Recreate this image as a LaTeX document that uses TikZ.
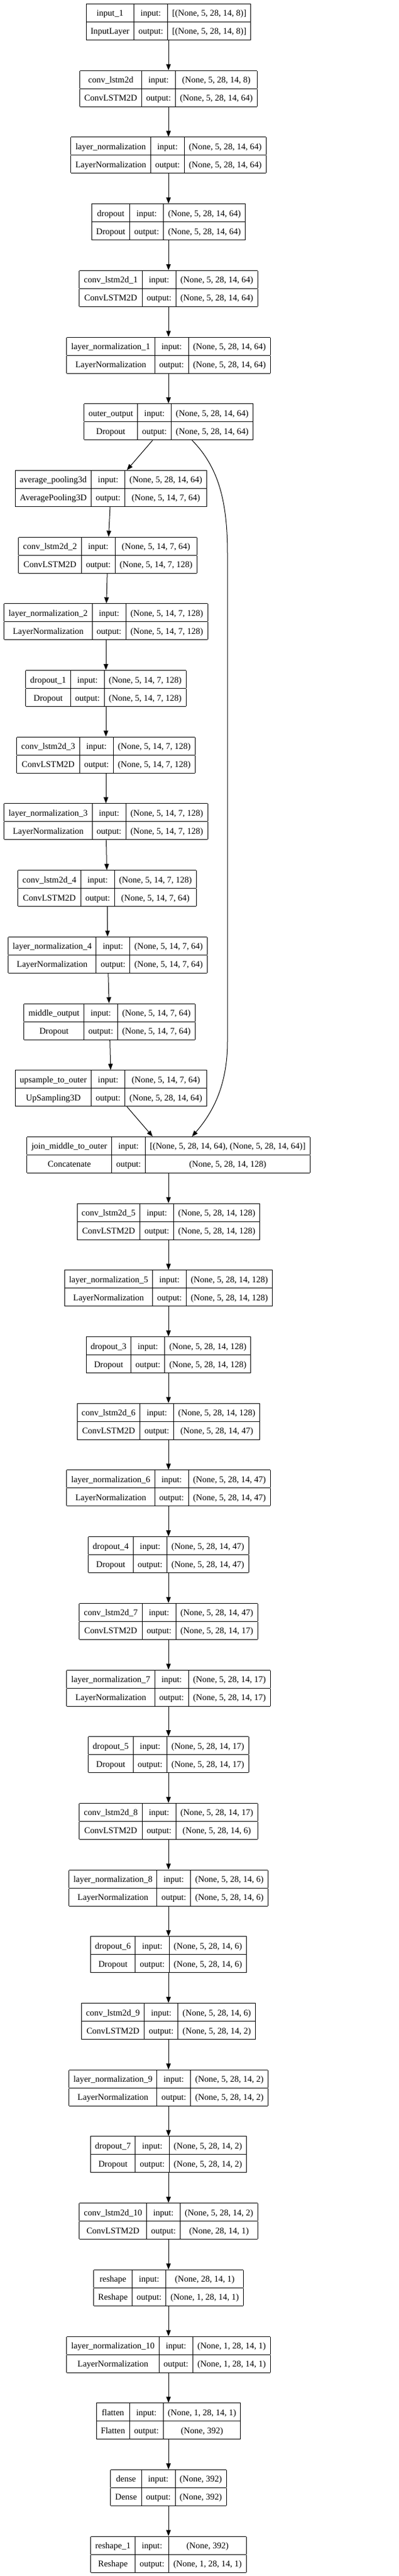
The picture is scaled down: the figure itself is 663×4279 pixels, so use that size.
\documentclass[tikz,border=0pt]{standalone}
\usepackage{fontspec}
\setmainfont{Liberation Serif}
\usepackage{tikz}
\usetikzlibrary{arrows.meta}
\setlength{\arrayrulewidth}{1pt}
\setlength{\tabcolsep}{7.5pt}
\newcommand{\rowstrut}{\rule[-9pt]{0pt}{29pt}}
\newcommand{\kerasbox}[4]{%
  \begin{tabular}{|c|c|c|}\hline
  \rowstrut #1 & input: & #3\\\hline
  \rowstrut #2 & output: & #4\\\hline
  \end{tabular}}
\tikzset{
  layer/.style={inner sep=0pt, outer sep=0pt, font=\fontsize{14.5}{17}\selectfont},
  flow/.style={line width=1pt, -{Triangle[length=10pt,width=7.5pt]}}
}

\begin{document}
\begin{tikzpicture}[x=1pt,y=1pt]
\fill[white] (0,0) rectangle (663,-4279);
\useasboundingbox (0,0) rectangle (663,-4279);
%% outer branch
\node[layer] (input) at (280,-36.5) {\kerasbox{input\_1}{InputLayer}{[(None, 5, 28, 14, 8)]}{[(None, 5, 28, 14, 8)]}};
\node[layer] (conv0) at (280,-147.2) {\kerasbox{conv\_lstm2d}{ConvLSTM2D}{(None, 5, 28, 14, 8)}{(None, 5, 28, 14, 64)}};
\node[layer] (norm0) at (280,-257.9) {\kerasbox{layer\_normalization}{LayerNormalization}{(None, 5, 28, 14, 64)}{(None, 5, 28, 14, 64)}};
\node[layer] (drop0) at (280,-368.6) {\kerasbox{dropout}{Dropout}{(None, 5, 28, 14, 64)}{(None, 5, 28, 14, 64)}};
\node[layer] (conv1) at (280,-479.3) {\kerasbox{conv\_lstm2d\_1}{ConvLSTM2D}{(None, 5, 28, 14, 64)}{(None, 5, 28, 14, 64)}};
\node[layer] (norm1) at (280,-590.0) {\kerasbox{layer\_normalization\_1}{LayerNormalization}{(None, 5, 28, 14, 64)}{(None, 5, 28, 14, 64)}};
\node[layer] (outer) at (280,-700.7) {\kerasbox{outer\_output}{Dropout}{(None, 5, 28, 14, 64)}{(None, 5, 28, 14, 64)}};
%% middle branch
\node[layer] (pool) at (184.5,-811.4) {\kerasbox{average\_pooling3d}{AveragePooling3D}{(None, 5, 28, 14, 64)}{(None, 5, 14, 7, 64)}};
\node[layer] (conv2) at (179,-922.1) {\kerasbox{conv\_lstm2d\_2}{ConvLSTM2D}{(None, 5, 14, 7, 64)}{(None, 5, 14, 7, 128)}};
\node[layer] (norm2) at (176,-1032.8) {\kerasbox{layer\_normalization\_2}{LayerNormalization}{(None, 5, 14, 7, 128)}{(None, 5, 14, 7, 128)}};
\node[layer] (drop1) at (176,-1143.5) {\kerasbox{dropout\_1}{Dropout}{(None, 5, 14, 7, 128)}{(None, 5, 14, 7, 128)}};
\node[layer] (conv3) at (176,-1254.2) {\kerasbox{conv\_lstm2d\_3}{ConvLSTM2D}{(None, 5, 14, 7, 128)}{(None, 5, 14, 7, 128)}};
\node[layer] (norm3) at (176,-1364.9) {\kerasbox{layer\_normalization\_3}{LayerNormalization}{(None, 5, 14, 7, 128)}{(None, 5, 14, 7, 128)}};
\node[layer] (conv4) at (178,-1475.6) {\kerasbox{conv\_lstm2d\_4}{ConvLSTM2D}{(None, 5, 14, 7, 128)}{(None, 5, 14, 7, 64)}};
\node[layer] (norm4) at (179,-1586.3) {\kerasbox{layer\_normalization\_4}{LayerNormalization}{(None, 5, 14, 7, 64)}{(None, 5, 14, 7, 64)}};
\node[layer] (middle) at (182,-1697.0) {\kerasbox{middle\_output}{Dropout}{(None, 5, 14, 7, 64)}{(None, 5, 14, 7, 64)}};
\node[layer] (upsample) at (184.5,-1807.7) {\kerasbox{upsample\_to\_outer}{UpSampling3D}{(None, 5, 14, 7, 64)}{(None, 5, 28, 14, 64)}};
%% joined part
\node[layer] (join) at (280,-1918.4) {\kerasbox{join\_middle\_to\_outer}{Concatenate}{[(None, 5, 28, 14, 64), (None, 5, 28, 14, 64)]}{(None, 5, 28, 14, 128)}};
\node[layer] (conv5) at (280,-2029.1) {\kerasbox{conv\_lstm2d\_5}{ConvLSTM2D}{(None, 5, 28, 14, 128)}{(None, 5, 28, 14, 128)}};
\node[layer] (norm5) at (280,-2139.8) {\kerasbox{layer\_normalization\_5}{LayerNormalization}{(None, 5, 28, 14, 128)}{(None, 5, 28, 14, 128)}};
\node[layer] (drop3) at (280,-2250.5) {\kerasbox{dropout\_3}{Dropout}{(None, 5, 28, 14, 128)}{(None, 5, 28, 14, 128)}};
\node[layer] (conv6) at (280,-2361.2) {\kerasbox{conv\_lstm2d\_6}{ConvLSTM2D}{(None, 5, 28, 14, 128)}{(None, 5, 28, 14, 47)}};
\node[layer] (norm6) at (280,-2471.9) {\kerasbox{layer\_normalization\_6}{LayerNormalization}{(None, 5, 28, 14, 47)}{(None, 5, 28, 14, 47)}};
\node[layer] (drop4) at (280,-2582.6) {\kerasbox{dropout\_4}{Dropout}{(None, 5, 28, 14, 47)}{(None, 5, 28, 14, 47)}};
\node[layer] (conv7) at (280,-2693.3) {\kerasbox{conv\_lstm2d\_7}{ConvLSTM2D}{(None, 5, 28, 14, 47)}{(None, 5, 28, 14, 17)}};
\node[layer] (norm7) at (280,-2804.0) {\kerasbox{layer\_normalization\_7}{LayerNormalization}{(None, 5, 28, 14, 17)}{(None, 5, 28, 14, 17)}};
\node[layer] (drop5) at (280,-2914.7) {\kerasbox{dropout\_5}{Dropout}{(None, 5, 28, 14, 17)}{(None, 5, 28, 14, 17)}};
\node[layer] (conv8) at (280,-3025.4) {\kerasbox{conv\_lstm2d\_8}{ConvLSTM2D}{(None, 5, 28, 14, 17)}{(None, 5, 28, 14, 6)}};
\node[layer] (norm8) at (280,-3136.1) {\kerasbox{layer\_normalization\_8}{LayerNormalization}{(None, 5, 28, 14, 6)}{(None, 5, 28, 14, 6)}};
\node[layer] (drop6) at (280,-3246.8) {\kerasbox{dropout\_6}{Dropout}{(None, 5, 28, 14, 6)}{(None, 5, 28, 14, 6)}};
\node[layer] (conv9) at (280,-3357.5) {\kerasbox{conv\_lstm2d\_9}{ConvLSTM2D}{(None, 5, 28, 14, 6)}{(None, 5, 28, 14, 2)}};
\node[layer] (norm9) at (280,-3468.2) {\kerasbox{layer\_normalization\_9}{LayerNormalization}{(None, 5, 28, 14, 2)}{(None, 5, 28, 14, 2)}};
\node[layer] (drop7) at (280,-3578.9) {\kerasbox{dropout\_7}{Dropout}{(None, 5, 28, 14, 2)}{(None, 5, 28, 14, 2)}};
\node[layer] (conv10) at (280,-3689.6) {\kerasbox{conv\_lstm2d\_10}{ConvLSTM2D}{(None, 5, 28, 14, 2)}{(None, 28, 14, 1)}};
\node[layer] (reshape) at (280,-3800.3) {\kerasbox{reshape}{Reshape}{(None, 28, 14, 1)}{(None, 1, 28, 14, 1)}};
\node[layer] (norm10) at (280,-3911.0) {\kerasbox{layer\_normalization\_10}{LayerNormalization}{(None, 1, 28, 14, 1)}{(None, 1, 28, 14, 1)}};
\node[layer] (flatten) at (280,-4021.7) {\kerasbox{flatten}{Flatten}{(None, 1, 28, 14, 1)}{(None, 392)}};
\node[layer] (dense) at (280,-4132.4) {\kerasbox{dense}{Dense}{(None, 392)}{(None, 392)}};
\node[layer] (reshape1) at (280,-4243.1) {\kerasbox{reshape\_1}{Reshape}{(None, 392)}{(None, 1, 28, 14, 1)}};
%% edges
\foreach \a/\b in {input/conv0, conv0/norm0, norm0/drop0, drop0/conv1, conv1/norm1, norm1/outer,
    outer/pool, pool/conv2, conv2/norm2, norm2/drop1, drop1/conv3, conv3/norm3, norm3/conv4,
    conv4/norm4, norm4/middle, middle/upsample, upsample/join,
    join/conv5, conv5/norm5, norm5/drop3, drop3/conv6, conv6/norm6, norm6/drop4, drop4/conv7,
    conv7/norm7, norm7/drop5, drop5/conv8, conv8/norm8, norm8/drop6, drop6/conv9, conv9/norm9,
    norm9/drop7, drop7/conv10, conv10/reshape, reshape/norm10, norm10/flatten, flatten/dense,
    dense/reshape1}
  \draw[flow] (\a) -- (\b);
%% skip connection round the middle branch
\coordinate (skiptop) at (378,-920);
\coordinate (skipbot) at (378,-1730);
\draw[flow] (outer.-38) .. controls (362,-775) and (378,-830) .. (skiptop) -- (skipbot)
  .. controls (378,-1805) and (352,-1850) .. (join.38);
\end{tikzpicture}
\end{document}
